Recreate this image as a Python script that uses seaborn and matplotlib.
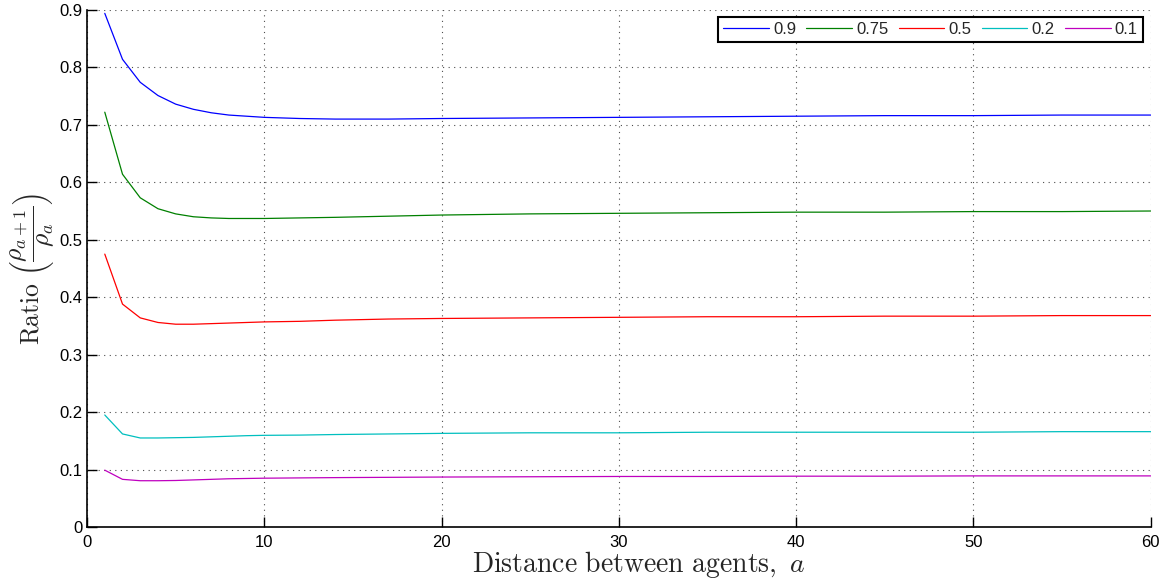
import matplotlib
matplotlib.use("Agg")
import matplotlib.pyplot as plt
import numpy as np
import pandas as pd
import seaborn as sns

# Distance between agents (sampled where the curves change)
distance = [1, 2, 3, 4, 5, 6, 7, 8, 9, 10, 12, 14, 17, 20, 25, 30, 35, 40, 45, 50, 55, 60]

ratio_09 = [0.894, 0.814, 0.774, 0.751, 0.736, 0.727, 0.721, 0.717, 0.715, 0.713, 0.711, 0.710,
            0.710, 0.711, 0.712, 0.713, 0.714, 0.715, 0.716, 0.716, 0.717, 0.717]
ratio_075 = [0.722, 0.614, 0.573, 0.554, 0.545, 0.540, 0.538, 0.537, 0.537, 0.537, 0.538, 0.539,
             0.541, 0.543, 0.545, 0.546, 0.547, 0.548, 0.548, 0.549, 0.549, 0.550]
ratio_05 = [0.475, 0.388, 0.364, 0.356, 0.353, 0.353, 0.354, 0.355, 0.356, 0.357, 0.358, 0.360,
            0.362, 0.363, 0.364, 0.365, 0.366, 0.366, 0.367, 0.367, 0.368, 0.368]
ratio_02 = [0.195, 0.162, 0.155, 0.155, 0.1555, 0.156, 0.157, 0.158, 0.159, 0.1596, 0.160, 0.161,
            0.162, 0.163, 0.164, 0.164, 0.165, 0.165, 0.165, 0.165, 0.166, 0.166]
ratio_01 = [0.099, 0.083, 0.0806, 0.0806, 0.081, 0.082, 0.083, 0.084, 0.0845, 0.085, 0.0855, 0.086,
            0.0865, 0.087, 0.0875, 0.088, 0.088, 0.0885, 0.0885, 0.089, 0.089, 0.089]

series_labels = ["0.9", "0.75", "0.5", "0.2", "0.1"]
series_values = [ratio_09, ratio_075, ratio_05, ratio_02, ratio_01]
colors = ["#0000ff", "#008000", "#ff0000", "#00bfbf", "#bf00bf"]

x_ticks = [0, 10, 20, 30, 40, 50, 60]
y_ticks = [0, 0.1, 0.2, 0.3, 0.4, 0.5, 0.6, 0.7, 0.8, 0.9]

df = pd.concat(
    [pd.DataFrame({"distance": distance, "ratio": vals, "p": lab})
     for lab, vals in zip(series_labels, series_values)],
    ignore_index=True,
)

sns.set_style("ticks")
plt.rcParams["font.family"] = ["Liberation Sans", "DejaVu Sans"]
plt.rcParams["mathtext.fontset"] = "cm"

fig = plt.figure(figsize=(11.67, 5.83), dpi=100)
ax = fig.add_axes([0.0746, 0.096, 0.9114, 0.887])

sns.lineplot(data=df, x="distance", y="ratio", hue="p", hue_order=series_labels,
             palette=colors, linewidth=0.9, ax=ax, legend=True)

ax.set_xlim(0, 60)
ax.set_ylim(0, 0.9)
ax.set_xticks(x_ticks)
ax.set_yticks(y_ticks)
ax.set_xticklabels([str(t) for t in x_ticks])
ax.set_yticklabels(["0"] + [f"{t:.1f}" for t in y_ticks[1:]])
ax.tick_params(direction="in", length=7, width=1, labelsize=12, colors="black")
ax.tick_params(axis="x", pad=6)

ax.grid(True, color="black", linestyle=(0, (1, 4)), linewidth=0.8, alpha=0.7)
for side in ["top", "right"]:
    ax.spines[side].set_visible(False)
for side in ["left", "bottom"]:
    ax.spines[side].set_linewidth(1.2)
    ax.spines[side].set_color("black")

ax.set_xlabel(r"$\mathrm{Distance\ between\ agents,}\ a$", fontsize=20)
ax.xaxis.set_label_coords(0.519, -0.043, transform=ax.transAxes)
ax.xaxis.label.set_verticalalignment("top")
ax.set_ylabel(r"$\mathrm{Ratio}\ \left(\dfrac{\rho_{a+1}}{\rho_a}\right)$", fontsize=18.5, labelpad=2)

handles, labels = ax.get_legend_handles_labels()
leg = ax.legend(handles, labels, ncol=5, loc="upper right", bbox_to_anchor=(0.9925, 0.9865),
                borderaxespad=0, fontsize=12, frameon=True, fancybox=False, handlelength=2.75,
                columnspacing=0.6, handletextpad=0.25, borderpad=0.3)
leg.get_frame().set_edgecolor("black")
leg.get_frame().set_linewidth(1.5)
leg.get_frame().set_alpha(1)

fig.savefig("out.png", dpi=100)
